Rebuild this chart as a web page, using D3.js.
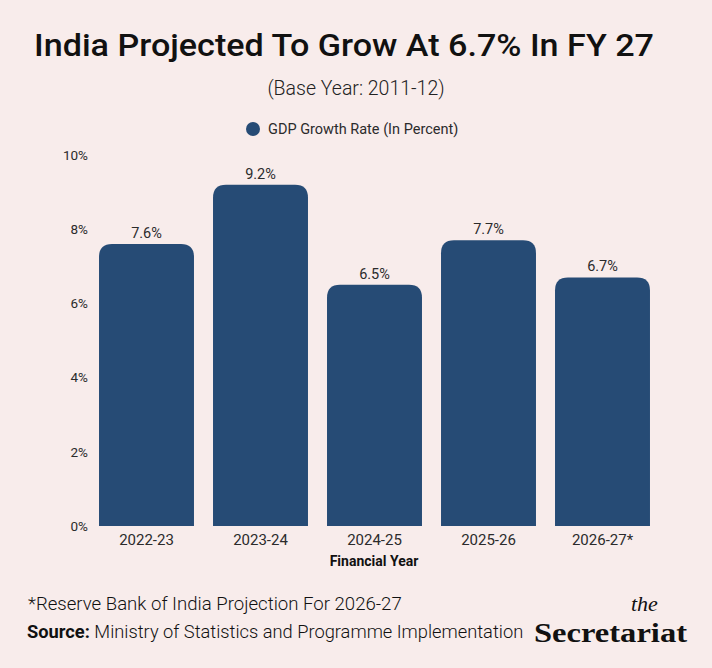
<!DOCTYPE html>
<html lang="en">
<head>
<meta charset="UTF-8">
<script src="https://cdn.jsdelivr.net/npm/d3@7"></script>
<title>India GDP Growth</title>
<style>
  body { margin: 0; background: #f8eceb; }
  svg { display: block; }
</style>
</head>
<body>
<svg></svg>
<script>
const years = ['2022-23', '2023-24', '2024-25', '2025-26', '2026-27*'];
const growth = [7.6, 9.2, 6.5, 7.7, 6.7];
const yTicks = [0, 2, 4, 6, 8, 10];

const W = 712, H = 668;
const font = 'Roboto, "Noto Sans", sans-serif';
const ink = '#2b2b2b';
const barColor = '#264b75';

const svg = d3.select('svg')
    .attr('width', W)
    .attr('height', H)
    .style('font-family', font);

svg.append('rect').attr('width', W).attr('height', H).attr('fill', '#f8eceb');

// title, stretched to the width it takes in the original
svg.append('text')
    .attr('x', 34).attr('y', 56)
    .attr('font-size', 32).attr('font-weight', 500)
    .attr('fill', '#111')
    .attr('textLength', 620).attr('lengthAdjust', 'spacingAndGlyphs')
    .text('India Projected To Grow At 6.7% In FY 27');

svg.append('text')
    .attr('x', 356).attr('y', 95)
    .attr('text-anchor', 'middle')
    .attr('font-size', 19.5).attr('font-weight', 300)
    .attr('fill', '#222')
    .text('(Base Year: 2011-12)');

// legend
svg.append('circle').attr('cx', 253).attr('cy', 129).attr('r', 7).attr('fill', barColor);
svg.append('text')
    .attr('x', 268).attr('y', 134)
    .attr('font-size', 14.5).attr('fill', ink)
    .text('GDP Growth Rate (In Percent)');

const x = d3.scaleBand()
    .domain(years)
    .range([89.5, 659.5])
    .paddingInner(0.167)
    .paddingOuter(0.0835);

const y = d3.scaleLinear().domain([0, 10]).range([526, 155]);

// y axis labels, no line
const yAxis = svg.append('g')
    .attr('transform', 'translate(89,0)')
    .call(d3.axisLeft(y).tickValues(yTicks).tickSize(0).tickPadding(1).tickFormat(d => d + '%'));
yAxis.select('.domain').remove();
yAxis.selectAll('text').attr('font-size', 13.5).attr('fill', ink).attr('font-family', font);

// bars rounded at the top only
function topRounded(x0, y0, w, h, r) {
    return `M${x0},${y0 + h}V${y0 + r}Q${x0},${y0} ${x0 + r},${y0}H${x0 + w - r}Q${x0 + w},${y0} ${x0 + w},${y0 + r}V${y0 + h}Z`;
}

const data = years.map((yr, i) => ({ year: yr, value: growth[i] }));

svg.append('g').selectAll('path')
    .data(data)
    .join('path')
    .attr('d', d => topRounded(x(d.year), y(d.value), x.bandwidth(), y(0) - y(d.value), 13))
    .attr('fill', barColor);

svg.append('g').selectAll('text')
    .data(data)
    .join('text')
    .attr('x', d => x(d.year) + x.bandwidth() / 2)
    .attr('y', d => y(d.value) - 6)
    .attr('text-anchor', 'middle')
    .attr('font-size', 14.5).attr('fill', ink)
    .text(d => d.value.toFixed(1) + '%');

// x axis labels
const xAxis = svg.append('g')
    .attr('transform', 'translate(0,526)')
    .call(d3.axisBottom(x).tickSize(0).tickPadding(8));
xAxis.select('.domain').remove();
xAxis.selectAll('text').attr('font-size', 15).attr('fill', ink).attr('font-family', font);

svg.append('text')
    .attr('x', 374).attr('y', 566)
    .attr('text-anchor', 'middle')
    .attr('font-size', 14).attr('font-weight', 700)
    .attr('fill', '#111')
    .text('Financial Year');

// footnotes
svg.append('text')
    .attr('x', 28).attr('y', 610)
    .attr('font-size', 18.6).attr('font-weight', 300)
    .attr('fill', '#111')
    .text('*Reserve Bank of India Projection For 2026-27');

const src = svg.append('text')
    .attr('x', 27).attr('y', 638)
    .attr('font-size', 18.3).attr('font-weight', 300)
    .attr('fill', '#111');
src.append('tspan').attr('font-weight', 700).text('Source:');
src.append('tspan').text(' Ministry of Statistics and Programme Implementation');

// logo
svg.append('text')
    .attr('x', 631).attr('y', 611)
    .attr('font-family', '"Liberation Serif", "DejaVu Serif", serif')
    .attr('font-style', 'italic')
    .attr('font-size', 22)
    .attr('fill', '#111')
    .text('the');

svg.append('text')
    .attr('x', 534).attr('y', 642)
    .attr('font-family', '"Liberation Serif", "DejaVu Serif", serif')
    .attr('font-weight', 700)
    .attr('font-size', 28)
    .attr('fill', '#111')
    .attr('textLength', 153).attr('lengthAdjust', 'spacingAndGlyphs')
    .text('Secretariat');
</script>
</body>
</html>
